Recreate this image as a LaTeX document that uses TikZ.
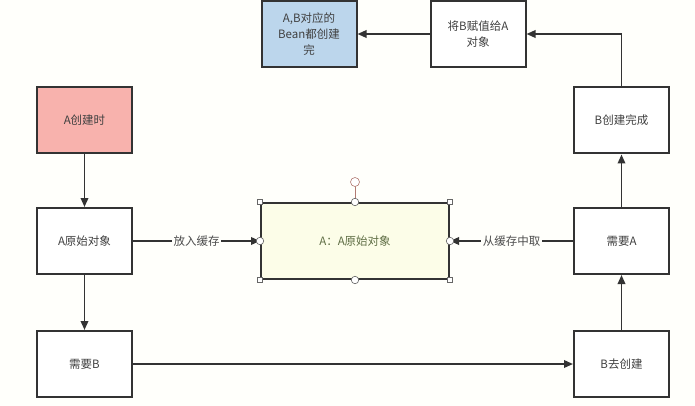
\documentclass[tikz,border=0pt]{standalone}
\usepackage{fontspec}
\newfontfamily\cjk{Noto Sans CJK SC}
\definecolor{bgcream}{HTML}{FFFFFB}
\definecolor{edgegray}{HTML}{333333}
\definecolor{beanblue}{HTML}{BCD6EC}
\definecolor{startred}{HTML}{F8B2AD}
\definecolor{cachefill}{HTML}{FCFDE8}
\definecolor{cachetext}{HTML}{5F6E45}
\definecolor{handlered}{HTML}{B27A72}
\usetikzlibrary{arrows.meta,positioning,calc}

\begin{document}
\begin{tikzpicture}[x=1pt,y=-1pt,
  stepbox/.style={draw=edgegray,line width=2pt,fill=white,align=center,
    font=\cjk\fontsize{11.5}{16}\selectfont,text=black!75,inner sep=2pt,
    minimum width=95pt,minimum height=66pt},
  q/.style={font=\cjk\fontsize{11.5}{14}\selectfont,text=black!70,fill=bgcream,inner sep=1.5pt},
  arr/.style={-{Triangle[length=9pt,width=7.5pt]},line width=1.8pt,edgegray},
  hsq/.style={draw=black!60,fill=white,line width=0.6pt,minimum size=5.5pt,inner sep=0pt},
  hci/.style={draw=black!60,fill=white,line width=0.6pt,circle,minimum size=7.5pt,inner sep=0pt}]
  \useasboundingbox[fill=bgcream] (0,0) rectangle (695,406);
  \node[stepbox,fill=beanblue] (bean) at (309,34) {A,B对应的\\Bean都创建\\完};
  \node[stepbox] (assign) at (478,34) {将B赋值给A\\对象};
  \node[stepbox,fill=startred] (start) at (84.5,120.5) {A创建时};
  \node[stepbox] (bdone) at (621.5,120.5) {B创建完成};
  \node[stepbox] (orig) at (84.5,241) {A原始对象};
  \node[stepbox] (needA) at (621.5,241) {需要A};
  \node[stepbox] (needB) at (84.5,364) {需要B};
  \node[stepbox] (bgo) at (621.5,364) {B去创建};
  \node[stepbox,fill=cachefill,text=cachetext,minimum width=188pt,minimum height=76pt] (cache)
    at (355,241) {A：A原始对象};
  \draw[arr] (start) -- (orig);
  \draw[arr] (orig) -- (needB);
  \draw[arr] (orig) -- node[q] {放入缓存} (cache);
  \draw[arr] (needB) -- (bgo);
  \draw[arr] (bgo) -- (needA);
  \draw[arr] (needA) -- node[q] {从缓存中取} (cache);
  \draw[arr] (needA) -- (bdone);
  \draw[arr] (bdone.north) |- (assign.east);
  \draw[arr] (assign) -- (bean);
  \coordinate (rot) at ($(cache.north)+(0,-20)$);
  \draw[handlered,line width=0.7pt] (cache.north) -- (rot);
  \node[hci,draw=handlered,minimum size=9pt] (roth) at (rot) {};
  \foreach \c in {north west,north east,south west,south east}
    \node[hsq] at (cache.\c) {};
  \foreach \c in {north,south,west,east}
    \node[hci] at (cache.\c) {};
\end{tikzpicture}
\end{document}
